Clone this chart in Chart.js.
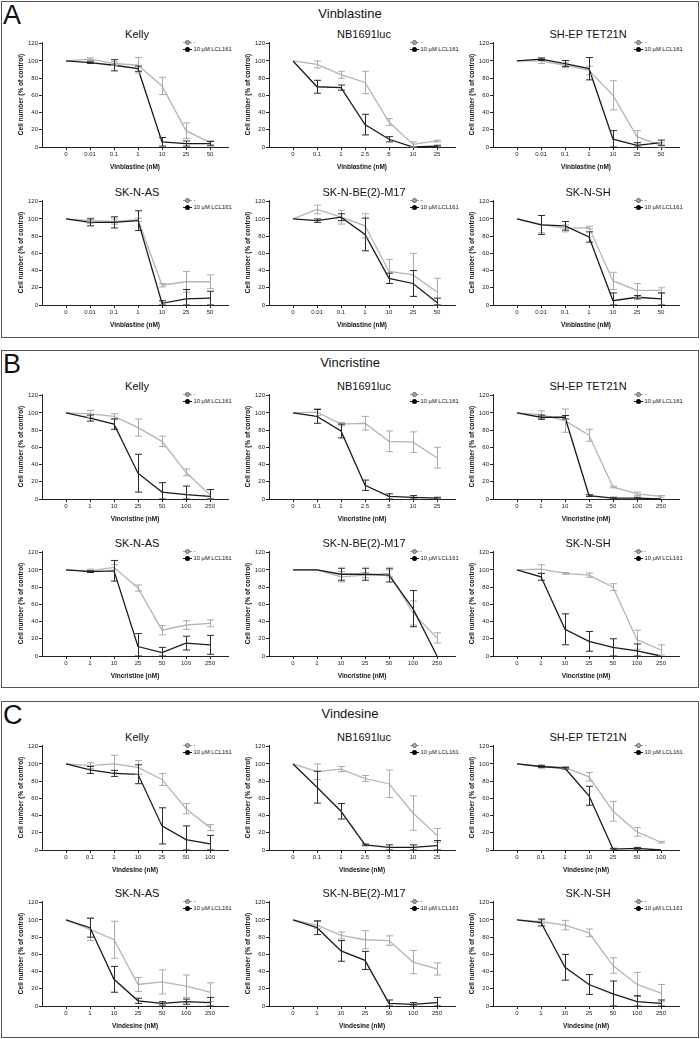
<!DOCTYPE html>
<html><head><meta charset="utf-8">
<script src="https://cdn.jsdelivr.net/npm/chart.js@4.4.1/dist/chart.umd.min.js"></script>
<style>
body{margin:0;width:700px;height:1039px;position:relative;background:#fff;font-family:"Liberation Sans",Arial,sans-serif;overflow:hidden;color:#111}
.panel{position:absolute;left:1px;width:698px;border:1.5px solid #555;box-sizing:border-box}
.letter{position:absolute;left:3px;font-size:27px;line-height:27px;color:#111}
.ptitle{position:absolute;left:0;width:700px;text-align:center;font-size:13px;line-height:15px}
.ctitle{position:absolute;width:200px;text-align:center;font-size:11px;line-height:13px}
.cv{position:absolute}
.leg{position:absolute;font-size:5.8px;color:#111;white-space:nowrap}
.li{height:7px;line-height:7px;display:flex;align-items:center}
.mk{position:relative;width:9px;height:7px;margin-right:1.5px}
.mk::before{content:"";position:absolute;left:0;right:0;top:3px;height:1px}
.mk::after{content:"";position:absolute;left:2px;top:1px;width:5px;height:5px;border-radius:50%;box-sizing:border-box}
.g::before{background:#999}.g::after{background:#a8a8a8;border:1px solid #666}
.b::before{background:#111}.b::after{background:#000}
</style></head><body>
<div class="panel" style="top:1px;height:337px"></div>
<div class="panel" style="top:350px;height:338px"></div>
<div class="panel" style="top:701px;height:337px"></div>
<div class="letter" style="top:2px">A</div>
<div class="letter" style="top:351px">B</div>
<div class="letter" style="top:702px">C</div>
<div class="ptitle" style="top:6px">Vinblastine</div>
<div class="ptitle" style="top:355px">Vincristine</div>
<div class="ptitle" style="top:706px">Vindesine</div>
<script>
// ---- tick labels (doses) ----
const vinblastineDoses = ['0','0.01','0.1','1','10','25','50'];
const nbDoses = ['0','0.1','1','2.5','5','10','25'];
const vincristineDoses = ['0','1','10','25','50','100','250'];
const vindesineDoses = ['0','0.1','1','10','25','50','100'];
const vindesineDoses2 = ['0','1','10','25','50','100','250'];
const yTicks = [0,20,40,60,80,100,120];

// ---- Panel A: Vinblastine ----
const vblKellyCtrl = [100,102,97,95,71,19,5];   const vblKellyCtrlSD = [0,1.5,2,9,10,9,2];
const vblKellyLcl  = [100,98,95,91,6,4,4];      const vblKellyLclSD  = [0,1,6.5,3,5,3,2.5];
const vblNbCtrl    = [100,96,84,75,29,3,7];     const vblNbCtrlSD    = [0,4,4,13,4,3,1];
const vblNbLcl     = [100,70,69,26,9,0,1];      const vblNbLclSD     = [0,7.5,3,12,3,0,1];
const vblShepCtrl  = [100,100,95,89,60,12,2];   const vblShepCtrlSD  = [0,3,3,5,17,7,3];
const vblShepLcl   = [100,102,97,91,9,2,5];     const vblShepLclSD   = [0,1.5,3.5,13,10,3,3];
const vblSknasCtrl = [100,98,97,99,23,27,27];   const vblSknasCtrlSD = [0,3,3,2,2,12,8];
const vblSknasLcl  = [100,96,96,98,2,7,8];      const vblSknasLclSD  = [0,4,6.5,11.5,3,11,8];
const vblSknbeCtrl = [100,111,102,92,39,35,15]; const vblSknbeCtrlSD = [0,5,8,14,14,25,16];
const vblSknbeLcl  = [100,98,102,82,31,25,3];   const vblSknbeLclSD  = [0,2,4,19,6,15,5];
const vblSknshCtrl = [100,94,89,90,28,17,17];   const vblSknshCtrlSD = [0,10,4,1.5,10,8,3];
const vblSknshLcl  = [100,93,92,79,5,9,7];      const vblSknshLclSD  = [0,11,5,6,9,2,7];

// ---- Panel B: Vincristine ----
const vcrKellyCtrl = [100,99,96,83,67,31,5];    const vcrKellyCtrlSD = [0,4,3,10,6,4,6];
const vcrKellyLcl  = [100,94,87,30,8,5,3];      const vcrKellyLclSD  = [0,3.5,6,22,11,10,8];
const vcrNbCtrl    = [100,101,87,88,67,66,48];  const vcrNbCtrlSD    = [0,4,2,8,12,12,12];
const vcrNbLcl     = [100,96,79,16,3,2,1];      const vcrNbLclSD     = [0,8,8,6,3,2,1];
const vcrShepCtrl  = [100,98,91,74,14,6,3];     const vcrShepCtrlSD  = [0,4.5,13.5,7,1,2,1];
const vcrShepLcl   = [100,95,95,4,1,1,0];       const vcrShepLclSD   = [0,2.5,2,1,1,1,0];
const vcrSknasCtrl = [100,99,103,79,30,36,38];  const vcrSknasCtrlSD = [0,2,3,3.5,5.5,5,4];
const vcrSknasLcl  = [100,98,99,11,4,15,13];    const vcrSknasLclSD  = [0,1,12,15,6,8,11];
const vcrSknbeCtrl = [100,100,92,94,96,50,21];  const vcrSknbeCtrlSD = [0,0,6,3,4,14,6];
const vcrSknbeLcl  = [100,100,95,95,94,55,0];   const vcrSknbeLclSD  = [0,0,7,7,8,21,0];
const vcrSknshCtrl = [100,101,96,94,80,19,7];   const vcrSknshCtrlSD = [0,5,1,2.5,4,11,6];
const vcrSknshLcl  = [100,92,31,17,10,6,0];     const vcrSknshLclSD  = [0,4,18,11.5,10,8,0];

// ---- Panel C: Vindesine ----
const vdsKellyCtrl = [100,98,100,96,82,48,26];  const vdsKellyCtrlSD = [0,3.5,10,8,7,6,3.5];
const vdsKellyLcl  = [100,93,89,88,28,12,7];    const vdsKellyLclSD  = [0,4,3.5,11,21,16,10];
const vdsNbCtrl    = [100,91,94,83,77,43,17];   const vdsNbCtrlSD    = [0,9,3,3.5,16,20,8];
const vdsNbLcl     = [100,73,45,6,3,3,5];       const vdsNbLclSD     = [0,18.5,9,1,3,3,6];
const vdsShepCtrl  = [100,97,96,85,45,21,9];    const vdsShepCtrlSD  = [0,2,1,5,11.5,5,1];
const vdsShepLcl   = [100,97,95,63,1,2,0];      const vdsShepLclSD   = [0,1,1,11,1,1,0];
const vdsSknasCtrl = [100,89,77,25,28,23,16];   const vdsSknasCtrlSD = [0,13,21.5,8,14,13,11];
const vdsSknasLcl  = [100,91,31,6,3,5,4];       const vdsSknasLclSD  = [0,11,15,3,2,3,6];
const vdsSknbeCtrl = [100,94,82,77,76,51,43];   const vdsSknbeCtrlSD = [0,4,4,10.5,5.5,13.5,7];
const vdsSknbeLcl  = [100,91,64,53,3,2,4];      const vdsSknbeLclSD  = [0,8,12,10.5,4,2,6];
const vdsSknshCtrl = [100,98,94,85,47,25,15];   const vdsSknshCtrlSD = [0,2,5.5,4.5,9,14,10];
const vdsSknshLcl  = [100,97,45,25,14,5,3];     const vdsSknshLclSD  = [0,4,15,11.5,15,7,4];

const charts = [
 [0,0,'Kelly',vinblastineDoses,'Vinblastine (nM)',vblKellyCtrl,vblKellyCtrlSD,vblKellyLcl,vblKellyLclSD],
 [0,1,'NB1691luc',nbDoses,'Vinblastine (nM)',vblNbCtrl,vblNbCtrlSD,vblNbLcl,vblNbLclSD],
 [0,2,'SH-EP TET21N',vinblastineDoses,'Vinblastine (nM)',vblShepCtrl,vblShepCtrlSD,vblShepLcl,vblShepLclSD],
 [1,0,'SK-N-AS',vinblastineDoses,'Vinblastine (nM)',vblSknasCtrl,vblSknasCtrlSD,vblSknasLcl,vblSknasLclSD],
 [1,1,'SK-N-BE(2)-M17',vinblastineDoses,'Vinblastine (nM)',vblSknbeCtrl,vblSknbeCtrlSD,vblSknbeLcl,vblSknbeLclSD],
 [1,2,'SK-N-SH',vinblastineDoses,'Vinblastine (nM)',vblSknshCtrl,vblSknshCtrlSD,vblSknshLcl,vblSknshLclSD],
 [2,0,'Kelly',vincristineDoses,'Vincristine (nM)',vcrKellyCtrl,vcrKellyCtrlSD,vcrKellyLcl,vcrKellyLclSD],
 [2,1,'NB1691luc',nbDoses,'Vincristine (nM)',vcrNbCtrl,vcrNbCtrlSD,vcrNbLcl,vcrNbLclSD],
 [2,2,'SH-EP TET21N',vincristineDoses,'Vincristine (nM)',vcrShepCtrl,vcrShepCtrlSD,vcrShepLcl,vcrShepLclSD],
 [3,0,'SK-N-AS',vincristineDoses,'Vincristine (nM)',vcrSknasCtrl,vcrSknasCtrlSD,vcrSknasLcl,vcrSknasLclSD],
 [3,1,'SK-N-BE(2)-M17',vincristineDoses,'Vincristine (nM)',vcrSknbeCtrl,vcrSknbeCtrlSD,vcrSknbeLcl,vcrSknbeLclSD],
 [3,2,'SK-N-SH',vincristineDoses,'Vincristine (nM)',vcrSknshCtrl,vcrSknshCtrlSD,vcrSknshLcl,vcrSknshLclSD],
 [4,0,'Kelly',vindesineDoses,'Vindesine (nM)',vdsKellyCtrl,vdsKellyCtrlSD,vdsKellyLcl,vdsKellyLclSD],
 [4,1,'NB1691luc',nbDoses,'Vindesine (nM)',vdsNbCtrl,vdsNbCtrlSD,vdsNbLcl,vdsNbLclSD],
 [4,2,'SH-EP TET21N',vindesineDoses,'Vindesine (nM)',vdsShepCtrl,vdsShepCtrlSD,vdsShepLcl,vdsShepLclSD],
 [5,0,'SK-N-AS',vindesineDoses2,'Vindesine (nM)',vdsSknasCtrl,vdsSknasCtrlSD,vdsSknasLcl,vdsSknasLclSD],
 [5,1,'SK-N-BE(2)-M17',vindesineDoses2,'Vindesine (nM)',vdsSknbeCtrl,vdsSknbeCtrlSD,vdsSknbeLcl,vdsSknbeLclSD],
 [5,2,'SK-N-SH',vindesineDoses2,'Vindesine (nM)',vdsSknshCtrl,vdsSknshCtrlSD,vdsSknshLcl,vdsSknshLclSD]
];

const colX = [42, 269, 493];
const rowY120 = [44, 202, 396, 553, 747, 903];
const FONT = '"Liberation Sans", Arial, sans-serif';

const errorBars = {
  id: 'errorBars',
  afterDatasetsDraw(chart) {
    const {ctx, scales: {x, y}} = chart;
    ctx.save();
    [1, 0].forEach(di => {
      const ds = chart.data.datasets[di];
      ctx.strokeStyle = ds.errColor;
      ctx.lineWidth = 1;
      ds.data.forEach((p, i) => {
        const sd = ds.sd[i];
        if (!sd) return;
        const px = Math.round(x.getPixelForValue(p.x)) + 0.5;
        const top = y.getPixelForValue(p.y + sd);
        const bot = y.getPixelForValue(Math.max(0, p.y - sd));
        ctx.beginPath();
        ctx.moveTo(px, top); ctx.lineTo(px, bot);
        ctx.moveTo(px - 3.5, top); ctx.lineTo(px + 3.5, top);
        ctx.moveTo(px - 3.5, bot); ctx.lineTo(px + 3.5, bot);
        ctx.stroke();
      });
    });
    ctx.restore();
  }
};

charts.forEach(([row, col, title, doses, axisTitle, ctrl, ctrlSD, lcl, lclSD]) => {
  const ax = colX[col], y120 = rowY120[row];
  const t = document.createElement('div');
  t.className = 'ctitle'; t.textContent = title;
  t.style.left = (ax + 95 - 100) + 'px'; t.style.top = (y120 - 16) + 'px';
  document.body.appendChild(t);

  const lg = document.createElement('div');
  lg.className = 'leg';
  lg.style.left = (ax + 141) + 'px'; lg.style.top = (y120 - 5) + 'px';
  lg.innerHTML = '<div class="li"><span class="mk g"></span><span>-</span></div><div class="li"><span class="mk b"></span><span>10 µM LCL161</span></div>';
  document.body.appendChild(lg);

  const c = document.createElement('canvas');
  c.className = 'cv';
  c.width = 232; c.height = 139;
  c.style.left = (ax - 40) + 'px'; c.style.top = (y120 - 8) + 'px';
  c.style.width = '232px'; c.style.height = '139px';
  document.body.appendChild(c);

  new Chart(c, {
    type: 'line',
    data: {datasets: [
      {label: '10 µM LCL161', data: lcl.map((v, i) => ({x: i, y: v})), sd: lclSD, errColor: '#2a2a2a',
       borderColor: '#1a1a1a', borderWidth: 1.3, pointRadius: 0, order: 0, clip: false, tension: 0},
      {label: '-', data: ctrl.map((v, i) => ({x: i, y: v})), sd: ctrlSD, errColor: '#a9a9a9',
       borderColor: '#b4b4b4', borderWidth: 1.3, pointRadius: 0, order: 1, clip: false, tension: 0}
    ]},
    options: {
      responsive: false, animation: false, events: [], devicePixelRatio: 1,
      layout: {padding: {top: 6, right: 6, left: 0, bottom: 0}},
      plugins: {legend: {display: false}, tooltip: {enabled: false}},
      scales: {
        x: {
          type: 'linear', min: -1, max: 6.75,
          afterBuildTicks: s => { s.ticks = doses.map((d, i) => ({value: i})); },
          afterFit: s => { s.height = 28; },
          ticks: {callback: (v, i) => doses[i], font: {size: 6, family: FONT}, color: '#222', padding: 1, maxRotation: 0, autoSkip: false},
          grid: {drawOnChartArea: false, tickLength: 3, color: '#222', lineWidth: 1},
          border: {color: '#222', width: 1},
          title: {display: true, text: axisTitle, font: {size: 6.5, weight: 'bold', family: FONT}, color: '#111', padding: {top: 0, bottom: 4}}
        },
        y: {
          min: 0, max: 122,
          afterBuildTicks: s => { s.ticks = yTicks.map(v => ({value: v})); },
          afterFit: s => { s.width = 40; },
          ticks: {font: {size: 6, family: FONT}, color: '#222', padding: 1},
          grid: {drawOnChartArea: false, tickLength: 3, color: '#222', lineWidth: 1},
          border: {color: '#222', width: 1},
          title: {display: true, text: 'Cell number (% of control)', font: {size: 6.5, weight: 'bold', family: FONT}, color: '#111', padding: {top: 15, bottom: 0}}
        }
      }
    },
    plugins: [errorBars]
  });
});
</script>
</body></html>
